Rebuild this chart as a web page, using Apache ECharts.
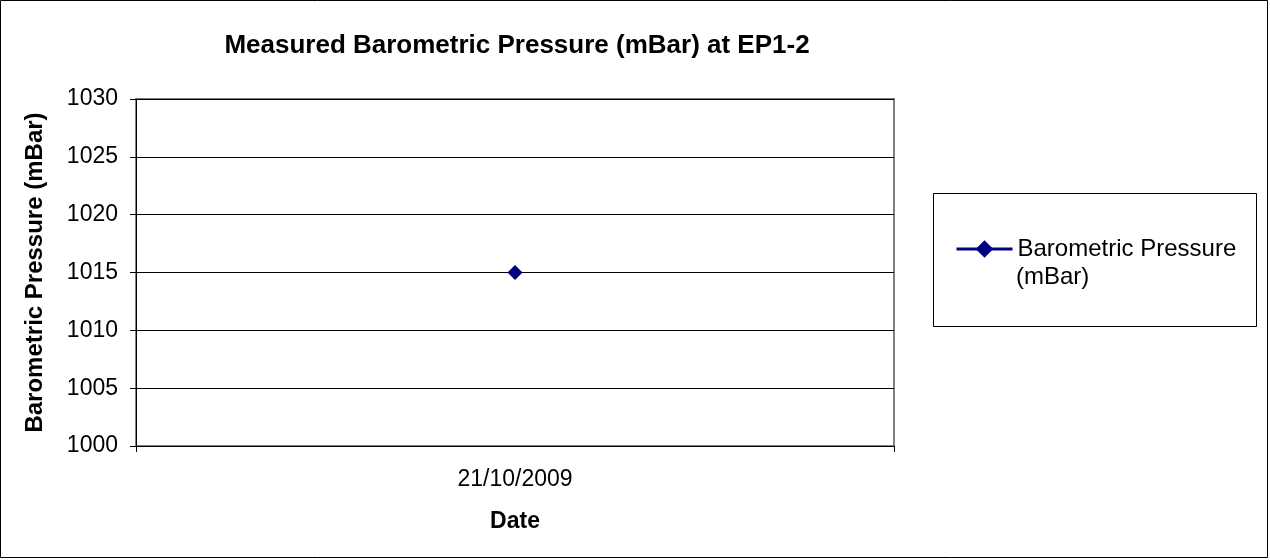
<!DOCTYPE html>
<html><head><meta charset="utf-8">
<script src="https://cdn.jsdelivr.net/npm/echarts@6/dist/echarts.min.js"></script>
<style>html,body{margin:0;padding:0;background:#fff}#c{width:1270px;height:560px}</style>
</head><body><div id="c"></div>
<script>
const categories = ['21/10/2009'];
const pressureValues = [1015];
const yTicks = [1000, 1005, 1010, 1015, 1020, 1025, 1030];
const seriesName = 'Barometric Pressure (mBar)';

const chart = echarts.init(document.getElementById('c'), null, {renderer: 'canvas'});
const font = 'Liberation Sans, Arial, sans-serif';
chart.setOption({
  animation: false,
  backgroundColor: '#fff',
  title: {
    text: 'Measured Barometric Pressure (mBar) at EP1-2',
    left: 512, top: 28, textAlign: 'center',
    textStyle: {fontFamily: font, fontSize: 26, fontWeight: 'bold', color: '#000'}
  },
  grid: {left: 136, top: 99, width: 758, height: 347, show: true, borderColor: '#808080', borderWidth: 2, backgroundColor: 'transparent'},
  xAxis: {
    type: 'category', data: categories, boundaryGap: true,
    name: 'Date', nameLocation: 'middle', nameGap: 64,
    nameTextStyle: {fontFamily: font, fontSize: 23, fontWeight: 'bold', color: '#000'},
    axisLine: {lineStyle: {color: '#000', width: 1}},
    axisTick: {show: true, length: 6, lineStyle: {color: '#000'}},
    axisLabel: {margin: 22, fontFamily: font, fontSize: 23, color: '#000'}
  },
  yAxis: {
    type: 'value', min: yTicks[0], max: yTicks[yTicks.length - 1], interval: 5,
    name: 'Barometric Pressure (mBar)', nameLocation: 'middle', nameGap: 89, nameRotate: 90,
    nameTextStyle: {fontFamily: font, fontSize: 24, fontWeight: 'bold', color: '#000'},
    axisLine: {show: true, lineStyle: {color: '#000', width: 1}},
    axisTick: {show: true, length: 6, lineStyle: {color: '#000'}},
    axisLabel: {margin: 18, fontFamily: font, fontSize: 23, color: '#000', formatter: v => String(v)},
    splitLine: {show: true, lineStyle: {color: '#000', width: 1}}
  },
  legend: {
    left: 955, top: 235, itemWidth: 56, itemHeight: 22, itemGap: 0, padding: 0,
    data: [seriesName],
    formatter: () => 'Barometric Pressure',
    lineStyle: {width: 3},
    textStyle: {fontFamily: font, fontSize: 24, color: '#000', lineHeight: 28, padding: [0, 0, 0, 0]}
  },
  graphic: [
    {type: 'rect', shape: {x: 0.5, y: 0.5, width: 1267, height: 557}, style: {fill: null, stroke: '#000', lineWidth: 1}, z: 100, silent: true},
    {type: 'rect', shape: {x: 933.5, y: 193.5, width: 323, height: 133}, style: {fill: null, stroke: '#000', lineWidth: 1}, z: 100, silent: true},
    {type: 'text', left: 1016, top: 265, style: {text: '(mBar)', font: '24px Liberation Sans, Arial, sans-serif', fill: '#000'}, z: 100, silent: true}
  ],
  series: [{
    name: seriesName, type: 'line', data: pressureValues,
    symbol: 'diamond', symbolSize: 15,
    itemStyle: {color: '#000080'},
    lineStyle: {color: '#000080', width: 2}
  }]
});
</script></body></html>
